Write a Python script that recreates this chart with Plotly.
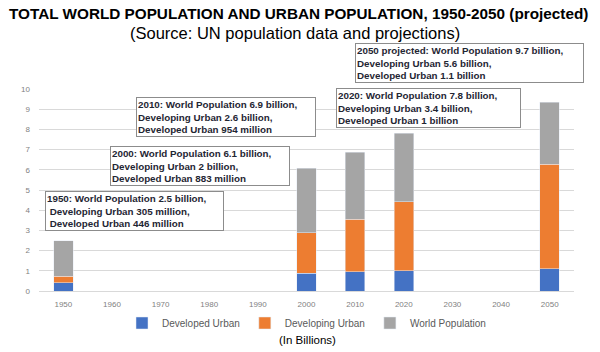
import plotly.graph_objects as go

years = ["1950", "1960", "1970", "1980", "1990", "2000", "2010", "2020", "2030", "2040", "2050"]
developed_urban = [0.42, None, None, None, None, 0.88, 0.95, 1.0, None, None, 1.1]
developing_urban = [0.32, None, None, None, None, 2.0, 2.6, 3.42, None, None, 5.17]
world_total = [2.5, None, None, None, None, 6.07, 6.87, 7.8, None, None, 9.35]
world_rest = [None if t is None else round(t - a - b, 3)
              for t, a, b in zip(world_total, developed_urban, developing_urban)]

box_texts = [
    "1950: World Population 2.5 billion,<br> Developing Urban 305 million,<br> Developed Urban 446 million",
    "2000: World Population 6.1 billion,<br>Developing Urban 2 billion,<br>Developed Urban 883 million",
    "2010: World Population 6.9 billion,<br>Developing Urban 2.6 billion,<br>Developed Urban 954 million",
    "2020: World Population 7.8 billion,<br>Developing Urban 3.4 billion,<br>Developed Urban 1 billion",
    "2050 projected: World Population 9.7 billion,<br>Developing Urban 5.6 billion,<br>Developed Urban 1.1 billion",
]

W, H = 600, 352
L, R, T, B = 39, 26, 89, 61
PW, PH = W - L - R, H - T - B

def px(x):
    return (x - L) / PW

def py(y):
    return (H - B - y) / PH

fig = go.Figure()
fig.add_bar(x=years, y=developed_urban, name="Developed Urban", marker_color="#4472C4")
fig.add_bar(x=years, y=developing_urban, name="Developing Urban", marker_color="#ED7D31")
fig.add_bar(x=years, y=world_rest, name="World Population", marker_color="#A5A5A5")

font = "Liberation Sans, Arial, sans-serif"
fig.update_layout(
    width=W, height=H,
    margin=dict(l=L, r=R, t=T, b=B),
    barmode="stack", bargap=0.6,
    plot_bgcolor="white", paper_bgcolor="white",
    font=dict(family=font, color="#595959"),
    showlegend=True,
    legend=dict(orientation="h", x=0.5, xanchor="center", y=py(323), yanchor="middle",
                font=dict(size=10, color="#595959"), traceorder="normal",
                itemwidth=30, bgcolor="rgba(0,0,0,0)"),
    xaxis=dict(type="category", showgrid=False, showline=True, linecolor="#d9d9d9",
               tickfont=dict(size=8, color="#7f7f7f"), ticks="", ticklabelstandoff=5),
    yaxis=dict(range=[0, 10], dtick=1, showgrid=True, gridcolor="#d9d9d9", zeroline=False,
               showline=False, tickfont=dict(size=8, color="#7f7f7f"), ticklabelstandoff=8),
)

annotations = [
    dict(text="<b>TOTAL WORLD POPULATION AND URBAN POPULATION, 1950-2050 (projected)</b>",
         x=px(298), y=py(13), xref="paper", yref="paper", xanchor="center", yanchor="middle",
         showarrow=False, font=dict(size=15.3, color="#000000", family=font)),
    dict(text="(Source: UN population data and projections)",
         x=px(295), y=py(33), xref="paper", yref="paper", xanchor="center", yanchor="middle",
         showarrow=False, font=dict(size=16.5, color="#000000", family=font)),
    dict(text="(In Billions)",
         x=px(307), y=py(340), xref="paper", yref="paper", xanchor="center", yanchor="middle",
         showarrow=False, font=dict(size=11.5, color="#000000", family=font)),
]

boxes = [(45, 191, 183), (110, 146, 184), (136, 97, 184), (336, 88, 189), (355, 43, 233)]
for txt, (bx, by, bw) in zip(box_texts, boxes):
    annotations.append(dict(
        text="<b>" + txt + "</b>", x=px(bx), y=py(by), xref="paper", yref="paper",
        xanchor="left", yanchor="top", align="left",
        width=bw - 8, showarrow=False,
        bgcolor="white", bordercolor="#8c8c8c", borderwidth=1, borderpad=1,
        font=dict(size=9.8, color="#1f2633", family=font)))

fig.update_layout(annotations=annotations)
fig.write_html("out.html")
